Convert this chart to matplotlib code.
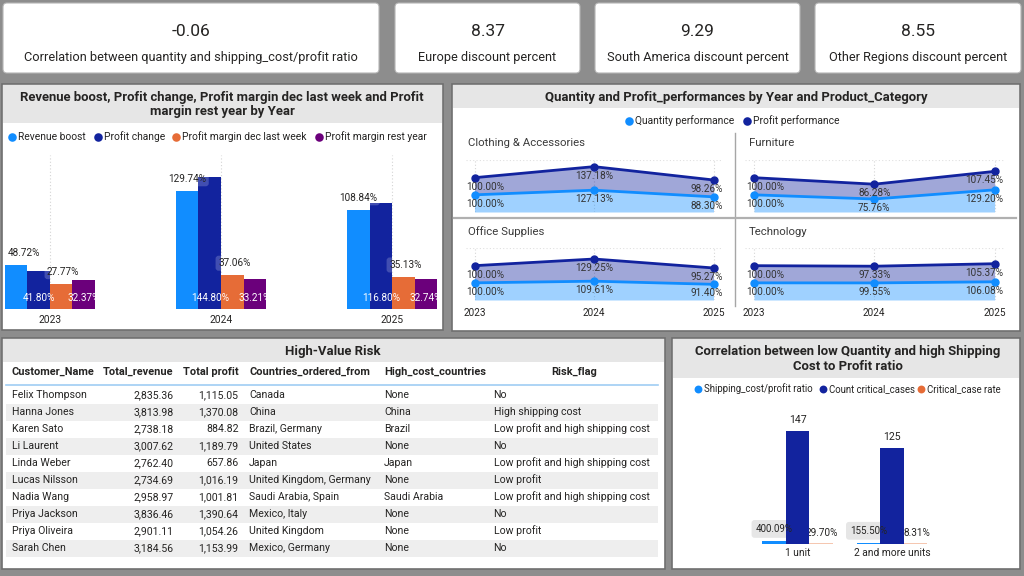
import matplotlib
matplotlib.use("Agg")
import matplotlib.pyplot as plt
from matplotlib.patches import FancyBboxPatch, Rectangle
from matplotlib import font_manager as fm
import numpy as np

# ---------------- data ----------------
kpi_values = ["-0.06", "8.37", "9.29", "8.55"]
kpi_labels = ["Correlation between quantity and shipping_cost/profit ratio",
              "Europe discount percent", "South America discount percent",
              "Other Regions discount percent"]

years = [2023, 2024, 2025]
revenue_boost = [48.72, 129.74, 108.84]
profit_change = [41.80, 144.80, 116.80]
margin_dec_last_week = [27.77, 37.06, 35.13]
margin_rest_year = [32.37, 33.21, 32.74]
bar_series_names = ["Revenue boost", "Profit change", "Profit margin dec last week",
                    "Profit margin rest year"]

product_categories = ["Clothing & Accessories", "Furniture", "Office Supplies", "Technology"]
qty_clothing = [100.00, 127.13, 88.30]
profit_clothing = [100.00, 137.18, 98.26]
qty_furniture = [100.00, 75.76, 129.20]
profit_furniture = [100.00, 86.28, 107.45]
qty_office = [100.00, 109.61, 91.40]
profit_office = [100.00, 129.25, 95.27]
qty_tech = [100.00, 99.55, 106.08]
profit_tech = [100.00, 97.33, 105.37]

table_headers = ["Customer_Name", "Total_revenue", "Total profit", "Countries_ordered_from",
                 "High_cost_countries", "Risk_flag"]
customer_names = ["Felix Thompson", "Hanna Jones", "Karen Sato", "Li Laurent", "Linda Weber",
                  "Lucas Nilsson", "Nadia Wang", "Priya Jackson", "Priya Oliveira", "Sarah Chen"]
total_revenue = [2835.36, 3813.98, 2738.18, 3007.62, 2762.40, 2734.69, 2958.97, 3836.46,
                 2901.11, 3184.56]
total_profit = [1115.05, 1370.08, 884.82, 1189.79, 657.86, 1016.19, 1001.81, 1390.64,
                1054.26, 1153.99]
countries_ordered = ["Canada", "China", "Brazil, Germany", "United States", "Japan",
                     "United Kingdom, Germany", "Saudi Arabia, Spain", "Mexico, Italy",
                     "United Kingdom", "Mexico, Germany"]
high_cost_countries = ["None", "China", "Brazil", "None", "Japan", "None", "Saudi Arabia",
                       "None", "None", "None"]
risk_flags = ["No", "High shipping cost", "Low profit and high shipping cost", "No",
              "Low profit and high shipping cost", "Low profit",
              "Low profit and high shipping cost", "No", "Low profit", "No"]

quantity_groups = ["1 unit", "2 and more units"]
shipping_profit_ratio = [4.0009, 1.5550]
count_critical_cases = [147, 125]
critical_case_rate = [0.2970, 0.0831]
corr_series_names = ["Shipping_cost/profit ratio", "Count critical_cases", "Critical_case rate"]

# ---------------- style ----------------
avail = {f.name for f in fm.fontManager.ttflist}


def pick(*names):
    for n in names:
        if n in avail:
            return n
    return "DejaVu Sans"


BODY = pick("Roboto", "Open Sans", "Lato", "Noto Sans", "DejaVu Sans")
TITLE = pick("Roboto", "Lato", "DejaVu Sans")
plt.rcParams["font.family"] = [BODY, "DejaVu Sans"]

BG = "#8d8d8d"
BORDER = "#6f6f6f"
BAND = "#e6e6e6"
TXT = "#252423"
C1, C2, C3, C4 = "#118DFF", "#12239E", "#E66C37", "#6B007B"
TITLE_SIZE = 9.45

W, H = 1024, 576
fig = plt.figure(figsize=(W / 100, H / 100), dpi=100)
fig.patch.set_facecolor(BG)
base = fig.add_axes([0, 0, 1, 1])
base.set_xlim(0, W)
base.set_ylim(H, 0)
base.axis("off")
base.set_zorder(0)


def ax_at(x0, y0, x1, y1):
    a = fig.add_axes([x0 / W, 1 - y1 / H, (x1 - x0) / W, (y1 - y0) / H])
    a.set_facecolor("none")
    a.set_zorder(2)
    for s in a.spines.values():
        s.set_visible(False)
    return a


def card(x0, y0, x1, y1):
    base.add_patch(FancyBboxPatch((x0, y0), x1 - x0, y1 - y0,
                                  boxstyle="round,pad=0,rounding_size=4",
                                  fc="white", ec="#b5b5b5", lw=0.8))


def panel(x0, y0, x1, y1, band_bottom):
    base.add_patch(Rectangle((x0, y0), x1 - x0, y1 - y0, fc="white", ec=BORDER, lw=1.2))
    base.add_patch(Rectangle((x0 + 1, y0 + 1), x1 - x0 - 2, band_bottom - y0 - 1,
                             fc=BAND, ec="none"))


def legend(items, y, size=7.4, ms=38):
    for (dx, tx, label, col) in items:
        base.scatter([dx], [y], s=ms, color=col, zorder=3, linewidths=0)
        base.text(tx, y, label, ha="left", va="center", fontsize=size, color=TXT)


def title(x, y, s):
    base.text(x, y, s, ha="center", va="center", fontsize=TITLE_SIZE, fontweight="bold",
              family=TITLE, color=TXT)


# ---------------- KPI cards ----------------
card_boxes = [(3, 3, 379, 73), (395, 3, 580, 73), (595, 3, 800, 73), (815, 3, 1021, 73)]
for (x0, y0, x1, y1), v, lab in zip(card_boxes, kpi_values, kpi_labels):
    card(x0, y0, x1, y1)
    cx = (x0 + x1) / 2
    base.text(cx, 32, v, ha="center", va="center", fontsize=12.5, color=TXT)
    base.text(cx, 58, lab, ha="center", va="center", fontsize=9.2, color=TXT)

# ---------------- Panel 1: grouped bars ----------------
panel(2, 84, 443, 330, 123)
title(222, 97, "Revenue boost, Profit change, Profit margin dec last week and Profit")
title(222, 112, "margin rest year by Year")
legend([(12, 18, bar_series_names[0], C1), (98, 104, bar_series_names[1], C2),
        (176, 182, bar_series_names[2], C3), (319, 325, bar_series_names[3], C4)], 137)

ax1 = ax_at(5, 155, 437, 309)
ax1.set_xlim(-0.263, 2.263)
ax1.set_ylim(0, 169)
xg = np.arange(len(years))
bw = 0.1316
series = [revenue_boost, profit_change, margin_dec_last_week, margin_rest_year]
colors = [C1, C2, C3, C4]
offs = [-1.5, -0.5, 0.5, 1.5]
for vals, col, o in zip(series, colors, offs):
    ax1.bar(xg + o * bw, vals, width=bw, color=col, zorder=2, linewidth=0)
for xv in xg:
    ax1.axvline(xv, color="#d4d4d4", lw=0.8, ls=(0, (1, 2)), zorder=0)
lab_kw = dict(textcoords="offset pixels", fontsize=7.2, zorder=5)
box_kw = dict(boxstyle="round,pad=0.25,rounding_size=0.3", fc="white", ec="none", alpha=0.2)
for i, xv in enumerate(xg):
    if i == 0:
        ax1.annotate(f"{revenue_boost[i]:.2f}%", (xv - 2 * bw, revenue_boost[i]), xytext=(3, 12),
                     ha="left", va="center", color=TXT, bbox=box_kw, **lab_kw)
    else:
        ax1.annotate(f"{revenue_boost[i]:.2f}%", (xv - 1.5 * bw, revenue_boost[i]),
                     xytext=(0, 12), ha="center", va="center", color=TXT, bbox=box_kw, **lab_kw)
    ax1.annotate(f"{margin_dec_last_week[i]:.2f}%", (xv + 0.5 * bw, margin_dec_last_week[i]),
                 xytext=(2, 12), ha="center", va="center", color=TXT, bbox=box_kw, **lab_kw)
    ax1.annotate(f"{profit_change[i]:.2f}%", (xv - 0.5 * bw, 0), xytext=(0, 11),
                 ha="center", va="center", color="white", **lab_kw)
    ax1.annotate(f"{margin_rest_year[i]:.2f}%", (xv + 1.5 * bw, 0), xytext=(0, 11),
                 ha="center", va="center", color="white", **lab_kw)
ax1.set_xticks(xg)
ax1.set_xticklabels([str(y) for y in years], fontsize=7.4, color=TXT)
ax1.tick_params(axis="x", length=0, pad=4)
ax1.set_yticks([])

# ---------------- Panel 2: small multiples ----------------
panel(452, 84, 1020, 331, 108)
title(736, 97, "Quantity and Profit_performances by Year and Product_Category")
legend([(629, 635, "Quantity performance", C1), (747, 753, "Profit performance", C2)], 121)

base.plot([735, 735], [133, 306], color="#a6a6a6", lw=1.0, zorder=1)
base.plot([454, 1016], [218, 218], color="#b0b0b0", lw=1.6, zorder=1)

qty_list = [qty_clothing, qty_furniture, qty_office, qty_tech]
prof_list = [profit_clothing, profit_furniture, profit_office, profit_tech]
col_pts = [(474.5, 713.5), (754.0, 994.6)]
row_y = [(160, 212), (248, 300)]
title_pos = [(468, 143), (749, 143), (468, 232), (749, 232)]
pad_px = 9
YMAX = 303
for k in range(4):
    r, c = divmod(k, 2)
    p0, p2 = col_pts[c]
    sp = (p2 - p0) / 2
    y0, y1 = row_y[r]
    ax = ax_at(p0 - pad_px, y0, p2 + pad_px, y1)
    ax.set_xlim(years[0] - pad_px / sp, years[-1] + pad_px / sp)
    ax.set_ylim(0, YMAX)
    q = np.array(qty_list[k])
    p = np.array(prof_list[k])
    tot = q + p
    for yv in years:
        ax.axvline(yv, color="#d6d6d6", lw=0.8, ls=(0, (1, 2)), zorder=0)
    ax.axhline(YMAX * 0.995, color="#e0e0e0", lw=0.8, ls=(0, (1, 2)), zorder=0)
    ax.fill_between(years, 0, q, color=C1, alpha=0.4, linewidth=0, zorder=1)
    ax.fill_between(years, q, tot, color=C2, alpha=0.4, linewidth=0, zorder=1)
    ax.plot(years, q, color=C1, lw=2, marker="o", ms=5, zorder=3)
    ax.plot(years, tot, color=C2, lw=2, marker="o", ms=5, zorder=3)
    for j, yv in enumerate(years):
        if j == 0:
            ha, dx = "left", -8
        elif j == len(years) - 1:
            ha, dx = "right", 9
        else:
            ha, dx = "center", 0
        ax.annotate(f"{p[j]:.2f}%", (yv, tot[j]), xytext=(dx, -9), textcoords="offset pixels",
                    ha=ha, va="center", fontsize=7.2, color="#333333", zorder=4,
                    annotation_clip=False)
        ax.annotate(f"{q[j]:.2f}%", (yv, q[j]), xytext=(dx, -9), textcoords="offset pixels",
                    ha=ha, va="center", fontsize=7.2, color="#333333", zorder=4,
                    annotation_clip=False)
    ax.set_yticks([])
    if r == 1:
        ax.set_xticks(years)
        ax.set_xticklabels([str(y) for y in years], fontsize=7.2, color=TXT)
        ax.tick_params(axis="x", length=0, pad=6)
    else:
        ax.set_xticks([])
    tx, ty = title_pos[k]
    base.text(tx, ty, product_categories[k], ha="left", va="center", fontsize=8.2,
              color="#3a3a3a", family=TITLE)

# ---------------- Panel 3: table ----------------
panel(2, 338, 665, 569, 362)
title(333, 351, "High-Value Risk")
hdr_y = 372
hdr_pos = [(11.5, "left"), (173, "right"), (238.5, "right"), (249, "left"), (384, "left"),
           (574, "center")]
for (hx, ha), h in zip(hdr_pos, table_headers):
    base.text(hx, hdr_y, h, ha=ha, va="center", fontsize=7.9, fontweight="bold", color=TXT)
base.plot([6, 658], [385, 385], color="#9fcdf3", lw=1.2)
row0, pitch = 395, 17
for i in range(len(customer_names)):
    y = row0 + pitch * i
    if i % 2 == 1:
        base.add_patch(Rectangle((6, y - pitch / 2), 652, pitch, fc="#eeeeee", ec="none"))
    cells = [(11.5, "left", customer_names[i]),
             (174, "right", f"{total_revenue[i]:,.2f}"),
             (238.5, "right", f"{total_profit[i]:,.2f}"),
             (249, "left", countries_ordered[i]),
             (384, "left", high_cost_countries[i]),
             (493.5, "left", risk_flags[i])]
    for cx, ha, s in cells:
        base.text(cx, y, s, ha=ha, va="center", fontsize=7.6, color=TXT)

# ---------------- Panel 4: correlation bars ----------------
panel(672, 338, 1020, 569, 378)
title(848, 351, "Correlation between low Quantity and high Shipping")
title(848, 367, "Cost to Profit ratio")
legend([(698, 704, corr_series_names[0], C1), (823, 829, corr_series_names[1], C2),
        (921, 927, corr_series_names[2], C3)], 389, size=6.9, ms=32)

ax4 = ax_at(690, 400, 1000, 544)
gc, gsp = 797.5, 94.5
ax4.set_xlim((690 - gc) / gsp, (1000 - gc) / gsp)
ax4.set_ylim(0, 144 / 0.7687)
xq = np.arange(len(quantity_groups))
w4 = 0.249
ax4.bar(xq - w4, shipping_profit_ratio, width=w4, color=C1, zorder=3, linewidth=0)
ax4.bar(xq, count_critical_cases, width=w4, color=C2, zorder=3, linewidth=0)
ax4.bar(xq + w4, critical_case_rate, width=w4, color="#f4c1a9", edgecolor="#f4c1a9",
        zorder=3, linewidth=1.3)
for i, xv in enumerate(xq):
    ax4.annotate(f"{count_critical_cases[i]}", (xv, count_critical_cases[i]), xytext=(0, 11),
                 textcoords="offset pixels", ha="center", va="center", fontsize=7.6, color=TXT)
    lbl = f"{shipping_profit_ratio[i] * 100:.2f}%"
    # label background box sits behind the count bar, the text in front
    ax4.annotate(lbl, (xv - w4, shipping_profit_ratio[i]), xytext=(0, 12),
                 textcoords="offset pixels", ha="center", va="center", fontsize=7.0,
                 color=(0, 0, 0, 0), zorder=2.5,
                 bbox=dict(boxstyle="round,pad=0.4,rounding_size=0.3", fc="#e6e6e6",
                           ec="none"))
    ax4.annotate(lbl, (xv - w4, shipping_profit_ratio[i]), xytext=(0, 12),
                 textcoords="offset pixels", ha="center", va="center", fontsize=7.0,
                 color=TXT, zorder=4)
    ax4.annotate(f"{critical_case_rate[i] * 100:.2f}%", (xv + w4, critical_case_rate[i]),
                 xytext=(1, 11), textcoords="offset pixels", ha="center", va="center",
                 fontsize=7.2, color=TXT, zorder=2.5)
ax4.set_xticks(xq)
ax4.set_xticklabels(quantity_groups, fontsize=7.4, color=TXT)
ax4.tick_params(axis="x", length=0, pad=3)
ax4.set_yticks([])

fig.savefig("out.png", dpi=100, facecolor=fig.get_facecolor())
